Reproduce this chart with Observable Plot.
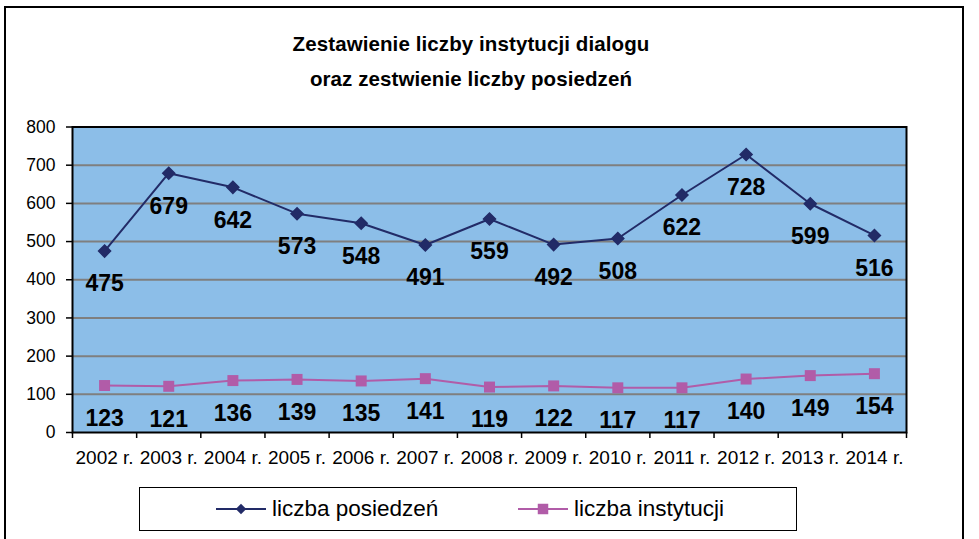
<!DOCTYPE html>
<html>
<head>
<meta charset="utf-8">
<script src="https://cdn.jsdelivr.net/npm/d3@7"></script>
<script src="https://cdn.jsdelivr.net/npm/@observablehq/plot@0.6"></script>
<style>
  html, body { margin: 0; padding: 0; background: #fff; }
  #wrap { position: relative; width: 979px; height: 539px; overflow: hidden; font-family: "Liberation Sans", Arial, sans-serif; }
  #outer { position: absolute; left: 4px; top: 6px; width: 960px; height: 560px; border: 2px solid #000; box-sizing: border-box; }
  .title { position: absolute; left: 0; width: 942px; height: 24px; line-height: 24px; text-align: center; font-weight: bold; font-size: 20.5px; color: #000; letter-spacing: 0.1px; }
  #chart { position: absolute; left: 0; top: 0; }
  #legend { position: absolute; left: 139px; top: 487px; width: 658px; height: 44px; border: 1.5px solid #000; box-sizing: border-box; background: #fff; }
  .lg { position: absolute; top: 0; height: 41px; display: flex; align-items: center; font-size: 22.5px; color: #000; }
  .lg svg { margin-right: 6px; }
</style>
</head>
<body>
<div id="wrap">
  <div id="outer"></div>
  <div class="title" id="t1" style="top:32px"></div>
  <div class="title" id="t2" style="top:67px"></div>
  <div id="chart"></div>
  <div id="legend"></div>
</div>
<script>
const years = ["2002 r.", "2003 r.", "2004 r.", "2005 r.", "2006 r.", "2007 r.", "2008 r.", "2009 r.", "2010 r.", "2011 r.", "2012 r.", "2013 r.", "2014 r."];
const posiedzenia = [475, 679, 642, 573, 548, 491, 559, 492, 508, 622, 728, 599, 516];
const instytucje = [123, 121, 136, 139, 135, 141, 119, 122, 117, 117, 140, 149, 154];
const yTicks = [0, 100, 200, 300, 400, 500, 600, 700, 800];
const seriesNames = ["liczba posiedzeń", "liczba instytucji"];
const titleLines = ["Zestawienie liczby instytucji dialogu", "oraz zestwienie liczby posiedzeń"];

const navy = "#222B67";
const pink = "#B15CA8";
const bg = "#8CBEE8";

const rowsP = years.map((y, i) => ({i, year: y, v: posiedzenia[i]}));
const rowsI = years.map((y, i) => ({i, year: y, v: instytucje[i]}));
const bounds = d3.range(years.length + 1).map(k => k - 0.5);

const chart = Plot.plot({
  width: 979,
  height: 539,
  marginLeft: 72,
  marginRight: 73,
  marginTop: 126.5,
  marginBottom: 107,
  style: {fontFamily: "'Liberation Sans', Arial, sans-serif", background: "transparent", overflow: "visible"},
  x: {type: "linear", domain: [-0.5, years.length - 0.5]},
  y: {domain: [0, 800]},
  marks: [
    Plot.frame({fill: bg, stroke: null}),
    Plot.gridY(yTicks.filter(t => t > 0 && t < 800), {stroke: "#7F7F7F", strokeOpacity: 1, strokeWidth: 2}),
    Plot.frame({stroke: "#000", strokeWidth: 2}),
    Plot.axisY(yTicks, {tickSize: 6, tickPadding: 11, fontSize: 17.5, stroke: "#000", strokeWidth: 1.5, color: "#000", label: null}),
    Plot.axisX(bounds, {tickSize: 6, tickFormat: () => "", stroke: "#000", strokeWidth: 1.5, label: null}),
    Plot.axisX(d3.range(years.length), {tickSize: 0, tickPadding: 17.5, tickFormat: i => years[i], fontSize: 19, color: "#000", label: null}),
    Plot.line(rowsP, {x: "i", y: "v", stroke: navy, strokeWidth: 2}),
    Plot.dot(rowsP, {x: "i", y: "v", symbol: "diamond2", r: 5.4, fill: navy, stroke: navy}),
    Plot.line(rowsI, {x: "i", y: "v", stroke: pink, strokeWidth: 2}),
    Plot.dot(rowsI, {x: "i", y: "v", symbol: "square", r: 6.2, fill: pink, stroke: null}),
    Plot.text(rowsP, {x: "i", y: "v", text: d => String(d.v), dy: 33, fontSize: 23, fontWeight: "bold", fill: "#000"}),
    Plot.text(rowsI, {x: "i", y: "v", text: d => String(d.v), dy: 33, fontSize: 23, fontWeight: "bold", fill: "#000"})
  ]
});
document.getElementById("chart").appendChild(chart);

document.getElementById("t1").textContent = titleLines[0];
document.getElementById("t2").textContent = titleLines[1];

// legend
const legend = document.getElementById("legend");
const items = [
  {name: seriesNames[0], color: navy, symbol: d3.symbolDiamond2, size: 70, left: 76},
  {name: seriesNames[1], color: pink, symbol: d3.symbolSquare, size: 110, left: 378}
];
for (const it of items) {
  const div = document.createElement("div");
  div.className = "lg";
  div.style.left = it.left + "px";
  const ns = "http://www.w3.org/2000/svg";
  const svg = document.createElementNS(ns, "svg");
  svg.setAttribute("width", 50);
  svg.setAttribute("height", 16);
  const line = document.createElementNS(ns, "line");
  line.setAttribute("x1", 0); line.setAttribute("x2", 50);
  line.setAttribute("y1", 8); line.setAttribute("y2", 8);
  line.setAttribute("stroke", it.color); line.setAttribute("stroke-width", 2);
  svg.appendChild(line);
  const p = document.createElementNS(ns, "path");
  p.setAttribute("d", d3.symbol(it.symbol, it.size)());
  p.setAttribute("transform", "translate(25,8)");
  p.setAttribute("fill", it.color);
  svg.appendChild(p);
  div.appendChild(svg);
  const span = document.createElement("span");
  span.textContent = it.name;
  div.appendChild(span);
  legend.appendChild(div);
}
</script>
</body>
</html>
